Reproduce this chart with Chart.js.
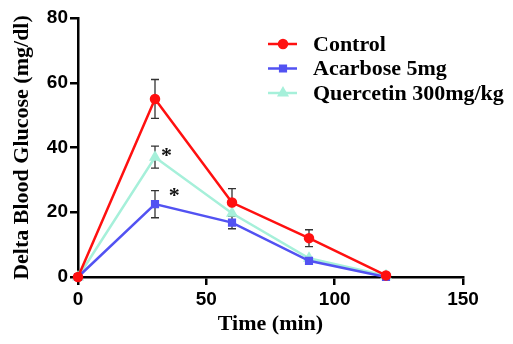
<!DOCTYPE html>
<html>
<head>
<meta charset="utf-8">
<script src="https://cdn.jsdelivr.net/npm/chart.js@4/dist/chart.umd.min.js"></script>
<style>
  html, body { margin: 0; padding: 0; background: #fff; }
  #wrap { width: 513px; height: 344px; position: relative; }
</style>
</head>
<body>
<div id="wrap"><canvas id="glucoseChart"></canvas></div>
<script>
// time points (min)
var timePoints = [0, 30, 60, 90, 120];

// series means
var controlVals = [0, 55, 23, 12, 0.5];
var acarboseVals = [0, 22.5, 16.8, 5, 0];
var quercetinVals = [0, 37, 19.7, 5.8, 0.4];

// error (SEM), only where the picture shows a bar
var controlErr = [0, 6, 4.3, 2.6, 0];
var acarboseErr = [0, 4.2, 1.9, 0, 0];
var quercetinErr = [0, 3.4, 0, 0, 0];

// significance marks: [x, y]
var starMarks = [[34.5, 38.6], [37.5, 26.2]];

var seriesLabels = ['Control', 'Acarbose 5mg', 'Quercetin 300mg/kg'];
var xTicks = [0, 50, 100, 150];
var yTicks = [0, 20, 40, 60, 80];

var SERIF = '"Liberation Serif", "Times New Roman", serif';
var SANS = '"Liberation Sans", Arial, sans-serif';

function toPoints(vals) {
    var pts = [];
    for (var i = 0; i < timePoints.length; i++) {
        pts.push({ x: timePoints[i], y: vals[i] });
    }
    return pts;
}

function makeSet(label, vals, errs, color, style) {
    return {
        label: label,
        data: toPoints(vals),
        errors: errs,
        borderColor: color,
        backgroundColor: color,
        pointBackgroundColor: color,
        pointBorderColor: color,
        pointStyle: style,
        pointRadius: style === 'triangle' ? 4.5 : 4,
        borderWidth: 2.5,
        tension: 0,
        clip: false
    };
}

// error bars drawn from the library's scales
var errorBarPlugin = {
    id: 'errorBars',
    beforeDatasetsDraw: function(chart) {
        var ctx = chart.ctx;
        var xs = chart.scales.x, ys = chart.scales.y;
        ctx.save();
        ctx.strokeStyle = '#333';
        ctx.lineWidth = 1.3;
        chart.data.datasets.forEach(function(ds) {
            for (var i = 0; i < ds.data.length; i++) {
                var e = ds.errors[i];
                if (!e) continue;
                var px = xs.getPixelForValue(ds.data[i].x);
                var top = ys.getPixelForValue(ds.data[i].y + e);
                var bot = ys.getPixelForValue(ds.data[i].y - e);
                ctx.beginPath();
                ctx.moveTo(px, top); ctx.lineTo(px, bot);
                ctx.moveTo(px - 4, top); ctx.lineTo(px + 4, top);
                ctx.moveTo(px - 4, bot); ctx.lineTo(px + 4, bot);
                ctx.stroke();
            }
        });
        ctx.restore();
    }
};

var starPlugin = {
    id: 'stars',
    afterDatasetsDraw: function(chart) {
        var ctx = chart.ctx;
        var xs = chart.scales.x, ys = chart.scales.y;
        ctx.save();
        ctx.fillStyle = '#111';
        ctx.font = 'bold 22px ' + SERIF;
        ctx.textAlign = 'center';
        ctx.textBaseline = 'middle';
        for (var i = 0; i < starMarks.length; i++) {
            ctx.fillText('*', xs.getPixelForValue(starMarks[i][0]), ys.getPixelForValue(starMarks[i][1]) + 4);
        }
        ctx.restore();
    }
};

// legend in the upper right of the plot
var legendPlugin = {
    id: 'sideLegend',
    afterDraw: function(chart) {
        var ctx = chart.ctx;
        var area = chart.chartArea;
        var x0 = area.left + 190;
        var y0 = area.top + 26;
        var gap = 24.5;
        ctx.save();
        chart.data.datasets.forEach(function(ds, i) {
            var y = y0 + i * gap;
            ctx.strokeStyle = ds.borderColor;
            ctx.lineWidth = 2.5;
            ctx.beginPath();
            ctx.moveTo(x0, y); ctx.lineTo(x0 + 29, y);
            ctx.stroke();
            ctx.fillStyle = ds.backgroundColor;
            Chart.helpers.drawPoint(ctx, {
                pointStyle: ds.pointStyle,
                radius: ds.pointRadius,
                borderWidth: 1
            }, x0 + 15, y);
            ctx.fillStyle = '#000';
            ctx.font = 'bold 22px ' + SERIF;
            ctx.textAlign = 'left';
            ctx.textBaseline = 'middle';
            ctx.fillText(ds.label, x0 + 45, y + 1);
        });
        ctx.restore();
    }
};

function initChart() {
    var canvas = document.getElementById('glucoseChart');
    var ctx = canvas.getContext('2d');

    new Chart(ctx, {
        type: 'line',
        data: {
            datasets: [
                makeSet(seriesLabels[0], controlVals, controlErr, '#FF1010', 'circle'),
                makeSet(seriesLabels[1], acarboseVals, acarboseErr, '#5252F2', 'rect'),
                makeSet(seriesLabels[2], quercetinVals, quercetinErr, '#A6F0DA', 'triangle')
            ]
        },
        options: {
            responsive: true,
            maintainAspectRatio: false,
            animation: false,
            layout: { padding: { top: 18, right: 50, left: 0, bottom: 0 } },
            plugins: {
                legend: { display: false },
                tooltip: { enabled: false }
            },
            scales: {
                x: {
                    type: 'linear',
                    min: 0,
                    max: 150,
                    afterBuildTicks: function(s) {
                        s.ticks = xTicks.map(function(v) { return { value: v }; });
                    },
                    afterFit: function(s) { s.height = 67; },
                    border: { color: '#000', width: 2.5 },
                    grid: { drawOnChartArea: false, tickLength: 8, color: '#000', lineWidth: 2.5 },
                    ticks: {
                        color: '#000',
                        padding: 3,
                        font: { family: SANS, size: 19, weight: 'bold' }
                    },
                    title: {
                        display: true,
                        text: 'Time (min)',
                        color: '#000',
                        padding: { top: 0, bottom: 6 },
                        font: { family: SERIF, size: 22, weight: 'bold' }
                    }
                },
                y: {
                    type: 'linear',
                    min: 0,
                    max: 80,
                    afterBuildTicks: function(s) {
                        s.ticks = yTicks.map(function(v) { return { value: v }; });
                    },
                    afterFit: function(s) { s.width = 78; },
                    border: { color: '#000', width: 2.5 },
                    grid: { drawOnChartArea: false, tickLength: 8, color: '#000', lineWidth: 2.5 },
                    ticks: {
                        color: '#000',
                        padding: 2,
                        font: { family: SANS, size: 19, weight: 'bold' }
                    },
                    title: {
                        display: true,
                        text: 'Delta Blood Glucose (mg/dl)',
                        color: '#000',
                        padding: { top: 9, bottom: 0 },
                        font: { family: SERIF, size: 22, weight: 'bold' }
                    }
                }
            }
        },
        plugins: [errorBarPlugin, starPlugin, legendPlugin]
    });
}

if (document.readyState === 'loading') {
    document.addEventListener('DOMContentLoaded', initChart);
} else {
    initChart();
}
</script>
</body>
</html>
